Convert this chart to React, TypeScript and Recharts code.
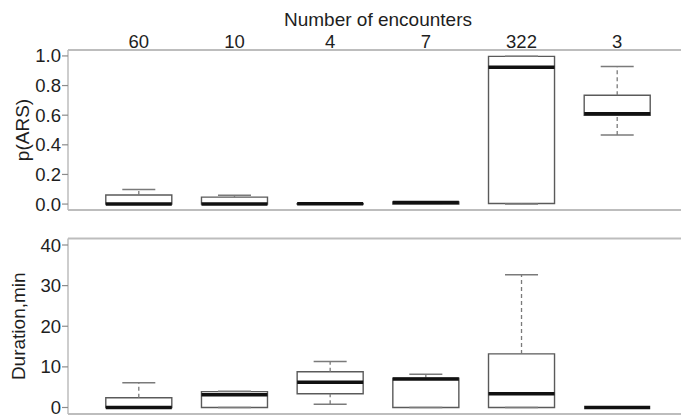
import React from 'react';
import { ComposedChart, XAxis, YAxis, ReferenceArea, ReferenceLine, Scatter } from 'recharts';

// Categories (group positions) and their top-axis labels
const categories = [1, 2, 3, 4, 5, 6];
const encounterLabels = ['60', '10', '4', '7', '322', '3'];

// p(ARS) box statistics
const arsMin = [0, 0, 0, 0, 0, 0.466];
const arsQ1 = [0, 0, 0, 0, 0.004, 0.6];
const arsMedian = [0, 0, 0.002, 0.01, 0.924, 0.61];
const arsQ3 = [0.061, 0.047, 0.003, 0.015, 0.997, 0.735];
const arsMax = [0.099, 0.06, 0.003, 0.015, 0.997, 0.928];
const arsTicks = [0, 0.2, 0.4, 0.6, 0.8, 1.0];

// Duration (min) box statistics
const durMin = [0, 0, 0.8, 0, 0, 0];
const durQ1 = [0, 0, 3.4, 0, 0, 0];
const durMedian = [0, 3.15, 6.2, 7.0, 3.4, 0];
const durQ3 = [2.4, 3.9, 8.8, 7.2, 13.2, 0];
const durMax = [6.1, 4.0, 11.3, 8.2, 32.7, 0];
const durTicks = [0, 10, 20, 30, 40];

const FONT = '"Liberation Sans", Arial, Helvetica, sans-serif';
const TEXT = '#1e1e1e';
const FRAME = '#bdbdbd';
const BOX_HALF = 0.345;
const CAP_HALF = 0.1725;
const X_DOMAIN: [number, number] = [0.26, 6.74];

type Stats = { min: number[]; q1: number[]; med: number[]; q3: number[]; max: number[] };

function buildRows(s: Stats) {
  return categories.map((c, i) => ({
    x: c,
    min: s.min[i],
    q1: s.q1[i],
    med: s.med[i],
    q3: s.q3[i],
    max: s.max[i],
  }));
}

function boxElements(rows: ReturnType<typeof buildRows>, prefix: string) {
  const els: React.ReactNode[] = [];
  rows.forEach((r) => {
    if (r.max > r.q3) {
      els.push(
        <ReferenceLine key={`${prefix}wu${r.x}`} segment={[{ x: r.x, y: r.q3 }, { x: r.x, y: r.max }]}
          stroke="#7a7a7a" strokeWidth={1.3} strokeDasharray="4 3" />
      );
    }
    if (r.min < r.q1) {
      els.push(
        <ReferenceLine key={`${prefix}wl${r.x}`} segment={[{ x: r.x, y: r.min }, { x: r.x, y: r.q1 }]}
          stroke="#7a7a7a" strokeWidth={1.3} strokeDasharray="4 3" />
      );
    }
    els.push(
      <ReferenceLine key={`${prefix}cu${r.x}`} segment={[{ x: r.x - CAP_HALF, y: r.max }, { x: r.x + CAP_HALF, y: r.max }]}
        stroke="#7a7a7a" strokeWidth={1.5} />
    );
    els.push(
      <ReferenceLine key={`${prefix}cl${r.x}`} segment={[{ x: r.x - CAP_HALF, y: r.min }, { x: r.x + CAP_HALF, y: r.min }]}
        stroke="#7a7a7a" strokeWidth={1.5} />
    );
    els.push(
      <ReferenceArea key={`${prefix}b${r.x}`} x1={r.x - BOX_HALF} x2={r.x + BOX_HALF} y1={r.q1} y2={r.q3}
        fill="#ffffff" fillOpacity={1} stroke="#5a5a5a" strokeWidth={1.4} />
    );
    els.push(
      <ReferenceLine key={`${prefix}m${r.x}`} segment={[{ x: r.x - BOX_HALF, y: r.med }, { x: r.x + BOX_HALF, y: r.med }]}
        stroke="#111111" strokeWidth={3.5} />
    );
  });
  return els;
}

const tickStyle = { fill: TEXT, fontSize: 18.5, fontFamily: FONT };

function YLabel(text: string, x: number) {
  return (props: any) => {
    const vb = props.viewBox || {};
    const cy = (vb.y ?? 0) + (vb.height ?? 0) / 2;
    return (
      <text x={x} y={cy} transform={`rotate(-90, ${x}, ${cy})`} textAnchor="middle"
        fill={TEXT} fontSize={19} fontFamily={FONT}>
        {text}
      </text>
    );
  };
}

function TopTitle(props: any) {
  const vb = props.viewBox || {};
  const cx = (vb.x ?? 68) + (vb.width ?? 620) / 2;
  return (
    <text x={cx} y={26} textAnchor="middle" fill={TEXT} fontSize={19} fontFamily={FONT}>
      Number of encounters
    </text>
  );
}

export default function App() {
  const arsRows = buildRows({ min: arsMin, q1: arsQ1, med: arsMedian, q3: arsQ3, max: arsMax });
  const durRows = buildRows({ min: durMin, q1: durQ1, med: durMedian, q3: durQ3, max: durMax });

  return (
    <div style={{ position: 'fixed', left: 0, top: 0, width: 681, height: 415, overflow: 'hidden', background: '#fff' }}>
      <div style={{ position: 'absolute', left: 0, top: 0 }}>
        <ComposedChart width={700} height={215} data={arsRows} margin={{ top: 0, right: 12, bottom: 4, left: 0 }}>
          <XAxis xAxisId={0} dataKey="x" type="number" orientation="top" domain={X_DOMAIN} ticks={categories}
            interval={0} tickFormatter={(v: number) => encounterLabels[v - 1]} height={50}
            tickLine={false} tickSize={0} tickMargin={2} tick={tickStyle}
            axisLine={{ stroke: FRAME, strokeWidth: 2 }} label={{ content: TopTitle }} allowDataOverflow />
          <XAxis xAxisId="f" dataKey="x" type="number" orientation="bottom" domain={X_DOMAIN} height={1}
            tick={false} tickLine={false} axisLine={{ stroke: FRAME, strokeWidth: 2 }} allowDataOverflow />
          <YAxis type="number" domain={[-0.04, 1.04]} ticks={arsTicks} interval={0} width={68}
            tickFormatter={(v: number) => v.toFixed(1)} tick={tickStyle} tickSize={6} tickMargin={1}
            tickLine={{ stroke: '#8c8c8c', strokeWidth: 1.2 }} axisLine={{ stroke: FRAME, strokeWidth: 1.5 }}
            label={{ content: YLabel('p(ARS)', 29) }} allowDataOverflow />
          <Scatter dataKey="med" isAnimationActive={false} shape={() => <g />} legendType="none" />
          {boxElements(arsRows, 'a')}
        </ComposedChart>
      </div>
      <div style={{ position: 'absolute', left: 0, top: 220 }}>
        <ComposedChart width={700} height={195} data={durRows} margin={{ top: 17.5, right: 12, bottom: 0, left: 0 }}>
          <XAxis xAxisId={0} dataKey="x" type="number" orientation="bottom" domain={X_DOMAIN} height={1}
            tick={false} tickLine={false} axisLine={{ stroke: FRAME, strokeWidth: 2 }} allowDataOverflow />
          <XAxis xAxisId="t" dataKey="x" type="number" orientation="top" domain={X_DOMAIN} height={1}
            tick={false} tickLine={false} axisLine={{ stroke: FRAME, strokeWidth: 2 }} allowDataOverflow />
          <YAxis type="number" domain={[-1.6, 41.6]} ticks={durTicks} interval={0} width={68}
            tick={tickStyle} tickSize={6} tickMargin={1}
            tickLine={{ stroke: '#8c8c8c', strokeWidth: 1.2 }} axisLine={{ stroke: FRAME, strokeWidth: 1.5 }}
            label={{ content: YLabel('Duration,min', 24.5) }} allowDataOverflow />
          <Scatter dataKey="med" isAnimationActive={false} shape={() => <g />} legendType="none" />
          {boxElements(durRows, 'd')}
        </ComposedChart>
      </div>
    </div>
  );
}
